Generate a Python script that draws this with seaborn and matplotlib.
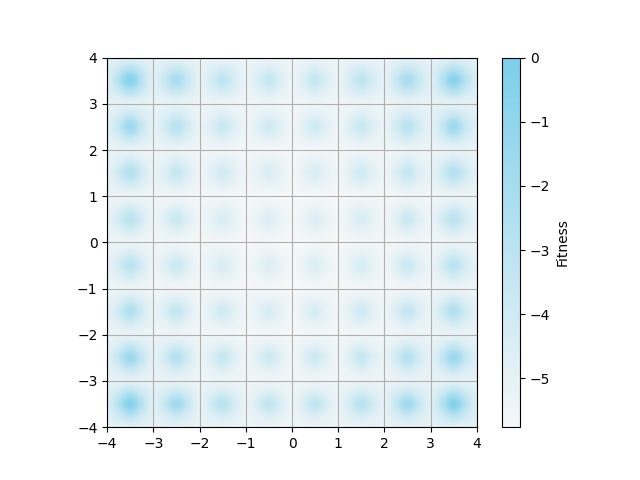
import matplotlib
matplotlib.use("Agg")
import matplotlib.pyplot as plt
import seaborn as sns
import numpy as np

# fitness, every quarter unit along x
# lines on the integer y values
line_a = [-5.0, -4.9, -4.8, -4.9, -5.1, -5.0, -5.0, -5.1, -5.3, -5.2, -5.2, -5.3, -5.4, -5.3, -5.3, -5.4, -5.4, -5.4, -5.3, -5.3, -5.4, -5.3, -5.2, -5.2, -5.3, -5.1, -5.0, -5.0, -5.1, -4.9, -4.8, -4.9, -5.0]
line_b = [-5.1, -5.0, -4.9, -5.0, -5.2, -5.1, -5.1, -5.2, -5.4, -5.3, -5.3, -5.4, -5.5, -5.4, -5.4, -5.5, -5.5, -5.5, -5.4, -5.4, -5.5, -5.4, -5.3, -5.3, -5.4, -5.2, -5.1, -5.1, -5.2, -5.0, -4.9, -5.0, -5.1]
line_c = [-5.3, -5.2, -5.1, -5.2, -5.4, -5.3, -5.3, -5.4, -5.6, -5.5, -5.5, -5.6, -5.7, -5.6, -5.6, -5.7, -5.7, -5.7, -5.6, -5.6, -5.7, -5.6, -5.5, -5.5, -5.6, -5.4, -5.3, -5.3, -5.4, -5.2, -5.1, -5.2, -5.3]
line_d = [-5.4, -5.35, -5.3, -5.4, -5.6, -5.5, -5.5, -5.6, -5.7, -5.6, -5.6, -5.7, -5.75, -5.7, -5.7, -5.75, -5.75, -5.75, -5.7, -5.7, -5.75, -5.7, -5.6, -5.6, -5.7, -5.6, -5.5, -5.5, -5.6, -5.4, -5.3, -5.35, -5.4]

# lines through the peaks, y = 3.5 down to y = -3.5
peak_1 = [-4.6, -2.8, -0.5, -2.8, -4.7, -3.65, -2.1, -3.65, -5.0, -4.25, -3.2, -4.25, -5.2, -4.5, -3.5, -4.5, -5.3, -4.5, -3.5, -4.5, -5.2, -4.25, -3.2, -4.25, -5.0, -3.65, -2.1, -3.65, -4.7, -2.8, -0.6, -2.8, -4.6]
peak_2 = [-4.8, -3.5, -1.6, -3.5, -4.9, -4.1, -2.9, -4.1, -5.2, -4.6, -3.7, -4.6, -5.4, -4.8, -4.0, -4.8, -5.5, -4.8, -4.0, -4.8, -5.4, -4.6, -3.7, -4.6, -5.2, -4.1, -2.9, -4.1, -4.9, -3.5, -1.6, -3.5, -4.8]
peak_3 = [-5.0, -4.0, -2.6, -4.0, -5.1, -4.55, -3.5, -4.55, -5.4, -4.85, -4.1, -4.85, -5.5, -5.05, -4.4, -5.05, -5.6, -5.05, -4.4, -5.05, -5.5, -4.85, -4.1, -4.85, -5.4, -4.55, -3.5, -4.55, -5.1, -4.0, -2.6, -4.0, -5.0]
peak_4 = [-5.1, -4.2, -3.0, -4.2, -5.3, -4.7, -3.8, -4.7, -5.5, -5.05, -4.4, -5.05, -5.6, -5.15, -4.6, -5.15, -5.7, -5.15, -4.6, -5.15, -5.6, -5.05, -4.4, -5.05, -5.5, -4.7, -3.8, -4.7, -5.3, -4.2, -3.0, -4.2, -5.1]
peak_6 = [-5.0, -4.0, -2.5, -4.0, -5.1, -4.5, -3.4, -4.5, -5.4, -4.85, -4.0, -4.85, -5.5, -5.05, -4.3, -5.05, -5.6, -5.05, -4.3, -5.05, -5.5, -4.85, -4.0, -4.85, -5.4, -4.5, -3.4, -4.5, -5.1, -4.0, -2.5, -4.0, -5.0]
peak_7 = [-4.8, -3.4, -1.5, -3.4, -4.9, -4.1, -2.7, -4.1, -5.2, -4.6, -3.6, -4.6, -5.4, -4.8, -3.9, -4.8, -5.5, -4.8, -3.9, -4.8, -5.4, -4.6, -3.6, -4.6, -5.2, -4.1, -2.7, -4.1, -4.9, -3.4, -1.4, -3.4, -4.8]
peak_8 = [-4.6, -2.8, -0.4, -2.8, -4.7, -3.5, -1.7, -3.5, -5.0, -4.1, -2.9, -4.1, -5.2, -4.4, -3.3, -4.4, -5.3, -4.4, -3.3, -4.4, -5.2, -4.1, -2.9, -4.1, -5.0, -3.5, -1.7, -3.5, -4.7, -2.8, -0.3, -2.8, -4.6]

# lines a quarter unit off the peaks
quarter_1 = [-4.7, -3.9, -2.8, -3.9, -4.8, -4.4, -3.65, -4.4, -5.1, -4.75, -4.25, -4.75, -5.3, -5.0, -4.5, -5.0, -5.4, -5.0, -4.5, -5.0, -5.3, -4.75, -4.25, -4.75, -5.1, -4.4, -3.65, -4.4, -4.8, -3.9, -2.8, -3.9, -4.7]
quarter_2 = [-4.9, -4.35, -3.5, -4.35, -5.0, -4.75, -4.1, -4.75, -5.3, -5.1, -4.6, -5.1, -5.5, -5.2, -4.8, -5.2, -5.6, -5.2, -4.8, -5.2, -5.5, -5.1, -4.6, -5.1, -5.3, -4.75, -4.1, -4.75, -5.0, -4.35, -3.5, -4.35, -4.9]
quarter_3 = [-5.1, -4.7, -4.0, -4.7, -5.2, -5.05, -4.55, -5.05, -5.5, -5.2, -4.85, -5.2, -5.6, -5.3, -5.05, -5.3, -5.7, -5.3, -5.05, -5.3, -5.6, -5.2, -4.85, -5.2, -5.5, -5.05, -4.55, -5.05, -5.2, -4.7, -4.0, -4.7, -5.1]
quarter_4 = [-5.2, -4.85, -4.2, -4.85, -5.4, -5.2, -4.7, -5.2, -5.6, -5.3, -5.05, -5.3, -5.7, -5.5, -5.15, -5.5, -5.75, -5.5, -5.15, -5.5, -5.7, -5.3, -5.05, -5.3, -5.6, -5.2, -4.7, -5.2, -5.4, -4.85, -4.2, -4.85, -5.2]

rows = [line_a, quarter_1, peak_1, quarter_1,
        line_b, quarter_2, peak_2, quarter_2,
        line_c, quarter_3, peak_3, quarter_3,
        line_d, quarter_4, peak_4, quarter_4,
        line_d, quarter_4, peak_4, quarter_4,
        line_d, quarter_3, peak_6, quarter_3,
        line_c, quarter_2, peak_7, quarter_2,
        line_b, quarter_1, peak_8, quarter_1,
        line_a]

fitness_min = -5.76
fitness_max = 0

cmap = sns.blend_palette(["#f5f7f8", "#7ccfeb"], as_cmap=True)

fig, ax = plt.subplots(figsize=(6.4, 4.8))
im = ax.imshow(np.array(rows), extent=[-4.125, 4.125, -4.125, 4.125], cmap=cmap,
               vmin=fitness_min, vmax=fitness_max, interpolation="catrom")
ax.set_xlim(-4, 4)
ax.set_ylim(-4, 4)
ax.grid(True)
cbar = fig.colorbar(im, ax=ax)
cbar.set_label("Fitness")
ax.set_anchor("E")

fig.savefig("out.png", dpi=100)
